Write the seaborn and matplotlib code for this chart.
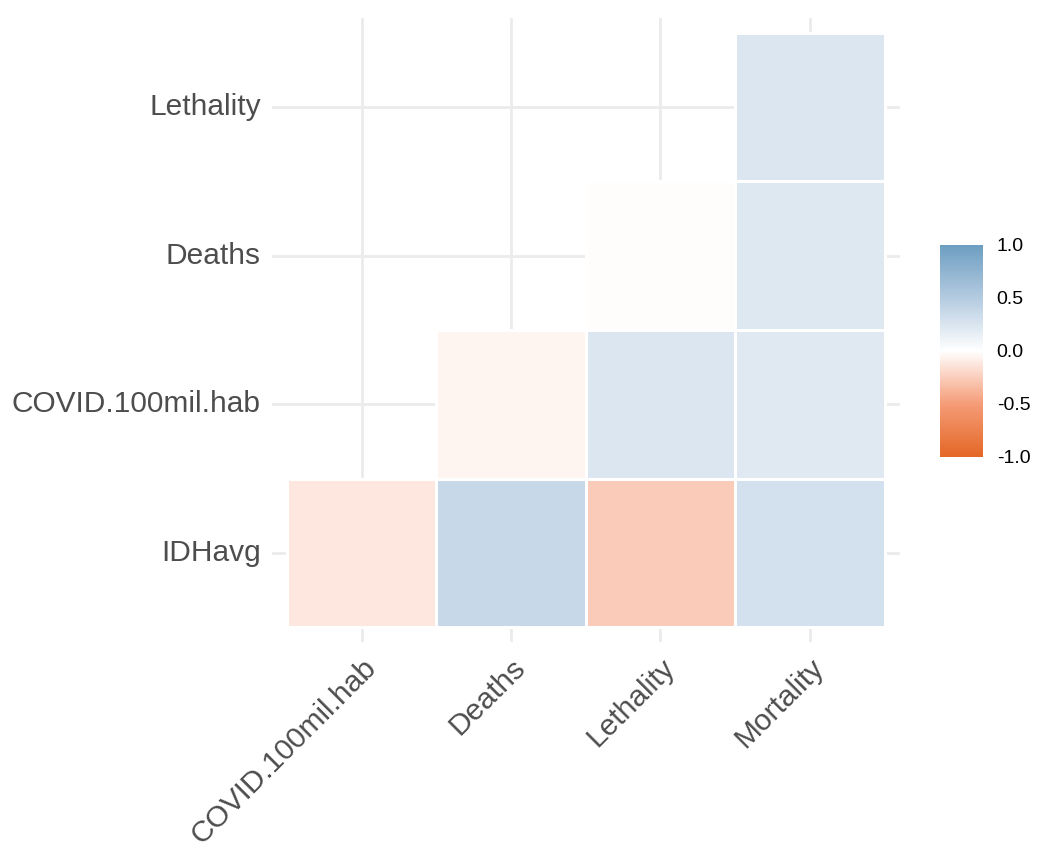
import numpy as np
import pandas as pd
import matplotlib
matplotlib.use("Agg")
import matplotlib.pyplot as plt
import seaborn as sns
from matplotlib.colors import LinearSegmentedColormap

rows = ["Lethality", "Deaths", "COVID.100mil.hab", "IDHavg"]
cols = ["COVID.100mil.hab", "Deaths", "Lethality", "Mortality"]
lethality = [np.nan, np.nan, np.nan, 0.24]
deaths = [np.nan, np.nan, -0.01, 0.22]
covid = [np.nan, -0.05, 0.24, 0.21]
idhavg = [-0.12, 0.37, -0.26, 0.29]

corr = pd.DataFrame([lethality, deaths, covid, idhavg], index=rows, columns=cols)

sns.set_style("whitegrid", {"grid.color": "#EBEBEB", "axes.edgecolor": "white"})
plt.rcParams["font.family"] = ["Liberation Sans", "DejaVu Sans"]

# white -> ggcorrplot colours, with a few extra stops to mimic Lab interpolation
cmap = LinearSegmentedColormap.from_list(
    "corr",
    [(0.0, "#E46726"), (0.25, "#F59C78"), (0.5, "#FFFFFF"), (0.75, "#B4CBE0"), (1.0, "#6D9EC1")])

fig = plt.figure(figsize=(10.4, 8.43), dpi=100)
ax = fig.add_axes([0.2615, 0.2384, 0.6035, 0.7402])
cax = fig.add_axes([0.904, 0.458, 0.041, 0.2515])

sns.heatmap(corr, ax=ax, cbar_ax=cax, cmap=cmap, vmin=-1, vmax=1,
            linewidths=0.8, linecolor="white", square=False)

# hide the outlines of empty (masked) cells so the grid stays continuous
mesh = ax.collections[0]
empty = np.isnan(corr.values).ravel()
ec = np.tile([1.0, 1.0, 1.0, 1.0], (len(empty), 1))
ec[empty, 3] = 0.0
mesh.set_edgecolor(ec)

ax.set_xlim(-0.1, 4.1)
ax.set_ylim(4.1, -0.1)
ax.set_axisbelow(True)
ax.grid(True, color="#EBEBEB", linewidth=2)
for s in ax.spines.values():
    s.set_visible(False)
ax.set_xlabel("")
ax.set_ylabel("")
ax.tick_params(length=0, labelsize=21.5, labelcolor="#4D4D4D", pad=8)
plt.setp(ax.get_yticklabels(), rotation=0)
plt.setp(ax.get_xticklabels(), rotation=45, ha="right", rotation_mode="anchor")

cb = mesh.colorbar
cb.set_ticks([1.0, 0.5, 0.0, -0.5, -1.0])
cb.set_ticklabels(["1.0", "0.5", "0.0", "-0.5", "-1.0"])
cb.outline.set_visible(False)
cax.tick_params(length=0, labelsize=14, labelcolor="black", pad=10)

fig.savefig("out.png", dpi=100, facecolor="white")
